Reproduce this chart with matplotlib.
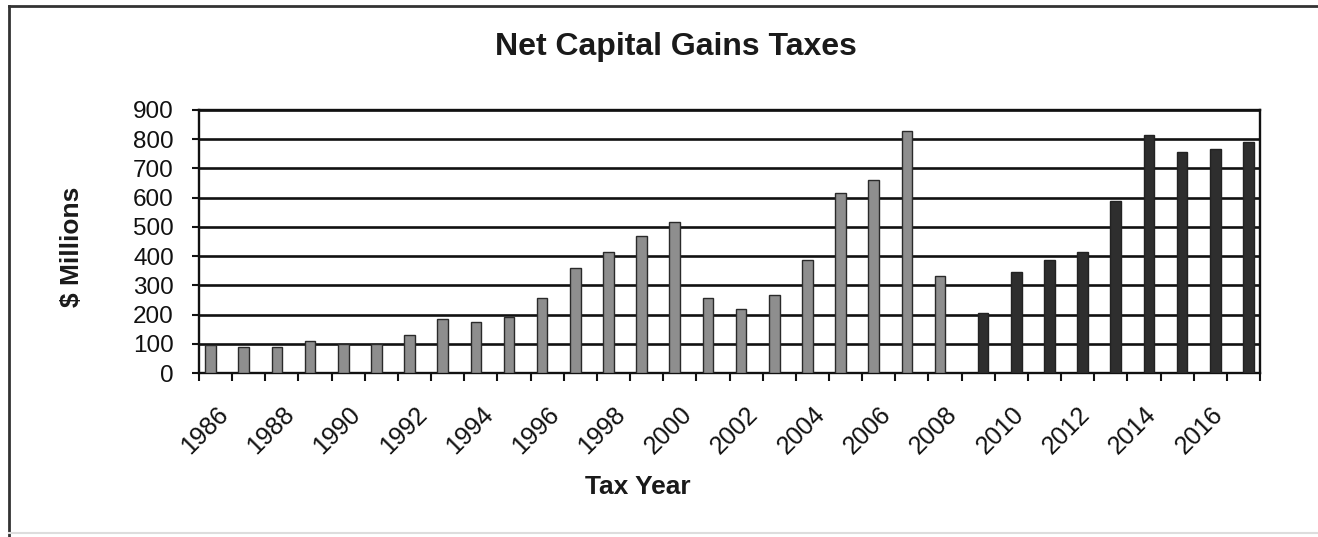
import matplotlib
matplotlib.use("Agg")
import matplotlib.pyplot as plt
from matplotlib.lines import Line2D
import numpy as np

plt.rcParams['font.family'] = ['Liberation Sans', 'DejaVu Sans']

# Tax years and net capital gains taxes ($ millions)
years = [1986, 1987, 1988, 1989, 1990, 1991, 1992, 1993, 1994, 1995, 1996,
         1997, 1998, 1999, 2000, 2001, 2002, 2003, 2004, 2005, 2006, 2007,
         2008, 2009, 2010, 2011, 2012, 2013, 2014, 2015, 2016, 2017]
actual_years = years[:23]
actual_values = [95, 89, 89, 110, 100, 100, 130, 186, 175, 192, 255,
                 360, 414, 469, 516, 255, 218, 266, 385, 616, 659, 828,
                 331]
later_years = years[23:]
later_values = [204, 345, 386, 413, 590, 815, 757, 765, 790]
y_ticks = [0, 100, 200, 300, 400, 500, 600, 700, 800, 900]

W, H = 1318, 537
fig = plt.figure(figsize=(W / 100, H / 100), dpi=100)
ax = fig.add_axes([199 / W, 1 - 373 / H, (1260 - 199) / W, (373 - 110) / H])

idx = {y: i for i, y in enumerate(years)}
bw = 0.32
ax.bar([idx[y] - 0.15 for y in actual_years], actual_values, width=bw,
       color='#8e8e8e', edgecolor='#2a2a2a', linewidth=1.0, zorder=3)
ax.bar([idx[y] + 0.15 for y in later_years], later_values, width=bw,
       color='#2e2e2e', edgecolor='#222222', linewidth=1.0, zorder=3)

ax.set_xlim(-0.5, len(years) - 0.5)
ax.set_ylim(0, 900)
ax.set_yticks(y_ticks)
ax.set_yticklabels([str(v) for v in y_ticks], fontsize=17.5, color='#111111')
ax.yaxis.grid(True, color='#111111', linewidth=1.9, zorder=1)
ax.set_axisbelow(True)
ax.tick_params(axis='y', direction='out', length=5, width=1.5, pad=13,
               color='#111111')

label_pos = [i for i, y in enumerate(years) if y % 2 == 0]
ax.set_xticks(label_pos)
ax.set_xticklabels([str(years[i]) for i in label_pos], fontsize=18,
                   color='#111111', rotation=45, ha='right', va='top',
                   rotation_mode='anchor')
ax.tick_params(axis='x', which='major', length=0, pad=21)
ax.set_xticks(np.arange(-0.5, len(years), 1.0), minor=True)
ax.tick_params(axis='x', which='minor', direction='out', length=6, width=1.5,
               color='#111111')

for s in ax.spines.values():
    s.set_color('#111111')
    s.set_linewidth(1.7)

fig.text(676 / W, 1 - 47 / H, 'Net Capital Gains Taxes', fontsize=23,
         fontweight='bold', ha='center', va='center', color='#1a1a1a')
fig.text(72 / W, 1 - 247 / H, '$ Millions', fontsize=19, fontweight='bold',
         rotation=90, ha='center', va='center', color='#1a1a1a')
fig.text(638 / W, 1 - 487 / H, 'Tax Year', fontsize=19, fontweight='bold',
         ha='center', va='center', color='#1a1a1a')

# chart frame
fig.add_artist(Line2D([9 / W, 1.0], [1 - 6 / H, 1 - 6 / H], color='#333333',
                      linewidth=2, transform=fig.transFigure))
fig.add_artist(Line2D([9 / W, 9 / W], [0.0, 1 - 6 / H], color='#333333',
                      linewidth=2, transform=fig.transFigure))
fig.add_artist(Line2D([9 / W, 1.0], [1 - 533 / H, 1 - 533 / H], color='#dddddd',
                      linewidth=1.5, transform=fig.transFigure))

fig.savefig('out.png', dpi=100)
